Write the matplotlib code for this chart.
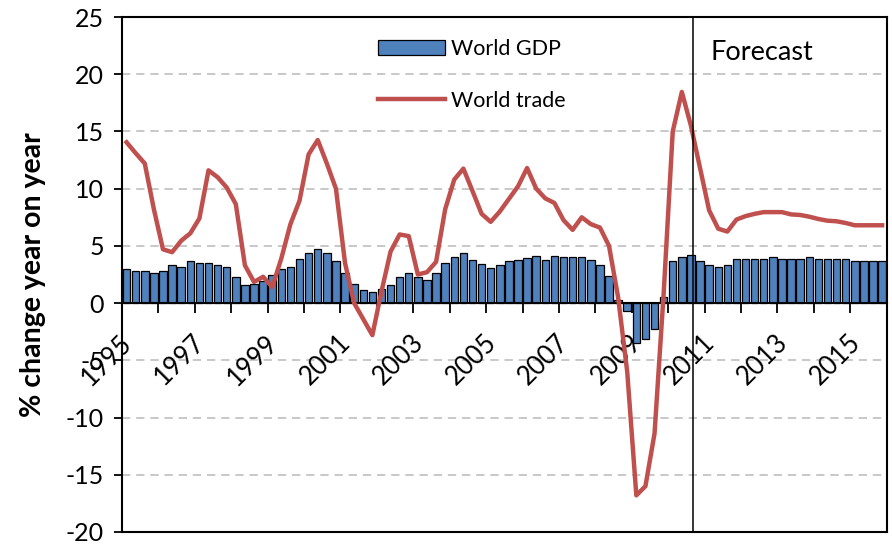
import matplotlib
matplotlib.use("Agg")
import matplotlib.pyplot as plt
import matplotlib.transforms as mtransforms
from matplotlib.patches import Patch
from matplotlib.lines import Line2D
import numpy as np

plt.rcParams['font.family'] = ['Lato', 'DejaVu Sans']
plt.rcParams['axes.unicode_minus'] = False

# quarterly data, 1995Q1 .. 2015Q4
first_year = 1995
n_years = 21
world_gdp = [
    3.0, 2.8, 2.8, 2.65, 2.8, 3.35, 3.15, 3.65, 3.5, 3.5, 3.35, 3.15,
    2.25, 1.55, 1.7, 1.9, 2.45, 2.95, 3.15, 3.85, 4.35, 4.7, 4.35, 3.65,
    2.65, 1.7, 1.15, 1.0, 1.2, 1.55, 2.25, 2.6, 2.25, 2.05, 2.6, 3.5,
    4.0, 4.35, 3.8, 3.45, 3.1, 3.3, 3.65, 3.8, 3.95, 4.1, 3.8, 4.15,
    4.0, 4.0, 4.0, 3.8, 3.3, 2.4, 0.3, -0.7, -3.5, -3.1, -2.25, 0.5,
    3.65, 4.0, 4.2, 3.7, 3.3, 3.15, 3.3, 3.85, 3.85, 3.85, 3.85, 4.0,
    3.85, 3.85, 3.85, 4.0, 3.85, 3.85, 3.85, 3.85, 3.7, 3.7, 3.7, 3.7,
]
world_trade = [
    14.05, 13.1, 12.2, 8.2, 4.7, 4.45, 5.45, 6.1, 7.4, 11.6, 11.0, 10.1,
    8.65, 3.3, 1.85, 2.3, 1.4, 3.9, 6.9, 8.95, 13.0, 14.25, 12.2, 10.0,
    3.5, 0.0, -1.4, -2.8, 1.0, 4.5, 6.0, 5.85, 2.5, 2.7, 3.6, 8.2,
    10.8, 11.75, 9.8, 7.8, 7.1, 8.0, 9.1, 10.2, 11.8, 10.0, 9.15, 8.75,
    7.25, 6.4, 7.5, 6.9, 6.6, 5.0, 0.5, -6.0, -16.8, -16.0, -11.4, 0.8,
    15.0, 18.45, 15.5, 11.8, 8.1, 6.5, 6.25, 7.3, 7.6, 7.8, 7.95, 7.95,
    7.95, 7.75, 7.7, 7.55, 7.35, 7.2, 7.15, 7.0, 6.8, 6.8, 6.8, 6.8,
]
forecast_start = 62.2  # position in quarters where the forecast begins

blue = '#4F81BD'
red = '#C0504D'

fig = plt.figure(figsize=(8.92, 5.45), dpi=100)
ax = fig.add_axes([0.1368, 0.0239, 0.8572, 0.9449])

x = np.arange(len(world_gdp))
ax.bar(x, world_gdp, width=0.82, color=blue, edgecolor='black', linewidth=0.9, zorder=2)
ax.plot(x, world_trade, color=red, linewidth=3.2, zorder=3, solid_joinstyle='round')
ax.axvline(forecast_start, color='black', linewidth=1.1, zorder=4)

ax.set_xlim(-0.5, len(world_gdp) - 0.5)
ax.set_ylim(-20, 25)
ax.set_yticks(np.arange(-20, 26, 5))
for v in range(-20, 26, 5):
    if v not in (-20, 0, 25):
        ax.axhline(v, color='#BFBFBF', linewidth=1.2, linestyle=(0, (5, 3.5)), zorder=1)

# x axis at zero, box drawn around the plot area
ax.spines['bottom'].set_position(('data', 0))
for s in ax.spines.values():
    s.set_linewidth(1.5)
ax.plot([0, 1], [0, 0], transform=ax.transAxes, color='black', linewidth=1.5, clip_on=False)

ax.tick_params(axis='x', direction='out', length=7, width=1.3, pad=0)
ax.tick_params(axis='y', direction='out', length=6, width=1.3, labelsize=18, pad=7)

year_ticks = np.arange(n_years + 1) * 4 - 0.5
ax.set_xticks(year_ticks)
labels = [str(first_year + i) if i % 2 == 0 and i < n_years else '' for i in range(n_years + 1)]
ax.set_xticklabels(labels, rotation=45, ha='right', va='center', rotation_mode='anchor', fontsize=18.5)
offset = mtransforms.ScaledTranslation(6 / 100, -26 / 100, fig.dpi_scale_trans)
for lab in ax.get_xticklabels():
    lab.set_transform(lab.get_transform() + offset)

ax.set_ylabel('% change year on year', fontsize=20.5, fontweight='bold', labelpad=14)

handles = [Patch(facecolor=blue, edgecolor='black', linewidth=0.9),
           Line2D([0], [0], color=red, linewidth=3.2)]
ax.legend(handles, ['World GDP', 'World trade'], loc='upper left',
          bbox_to_anchor=(0.335, 0.958), frameon=False, fontsize=15.5,
          handlelength=3.1, handletextpad=0.3, labelspacing=1.5,
          borderpad=0, borderaxespad=0)

ax.text(forecast_start + 1.9, 21.9, 'Forecast', fontsize=19.5, va='center', ha='left')

fig.savefig('out.png', dpi=100)
